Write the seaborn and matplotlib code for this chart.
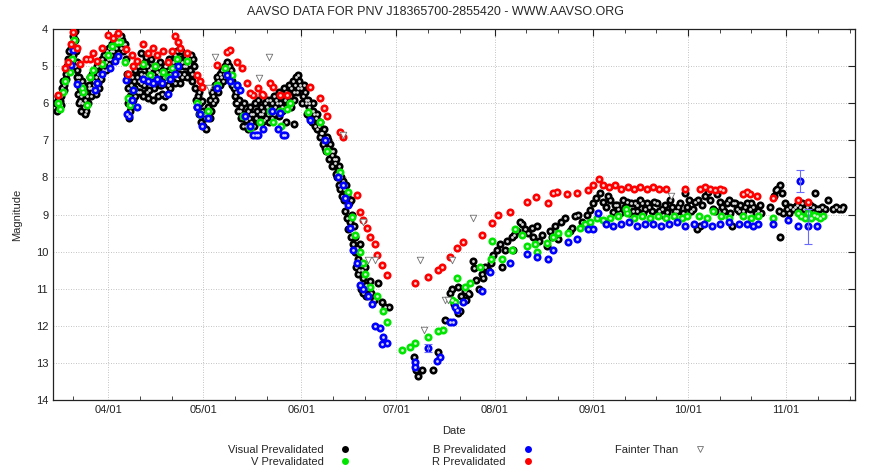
import matplotlib
matplotlib.use('Agg')
import matplotlib.pyplot as plt
import matplotlib.dates as mdates
from matplotlib.lines import Line2D
import numpy as np
import pandas as pd
import seaborn as sb

# days are counted from 2012-04-01 (negative = March)
start = pd.Timestamp('2012-04-01')

vis_day = [-16.5, -16.2, -15.8, -15.5, -15.0, -14.6, -14.2, -13.8, -13.4, -13.0,
           -12.6, -12.2, -11.8, -11.4, -11.1, -10.8, -10.5, -10.2, -10.0, -9.7,
           -9.5, -9.2, -9.0, -8.8, -8.5, -8.3, -8.0, -7.7, -7.4, -7.2,
           -7.0, -6.7, -6.5, -6.2, -6.0, -5.7, -5.3, -5.0, -4.6, -4.3,
           -4.0, -3.6, -3.2, -3.0, -2.8, -2.4, -2.0, -1.6, -1.2, -0.8,
           -0.4, 0.0, 0.4, 0.8, 1.2, 1.6, 2.0, 2.4, 2.8, 3.2,
           3.6, 4.0, 4.4, 4.8, 5.2, 5.5, 6.0, 6.2, 6.4, 6.6,
           6.8, 7.0, 7.3, 7.6, 8.0, 8.3, 8.6, 9.0, 9.3, 9.7,
           10.0, 10.4, 10.5, 10.8, 11.2, 11.6, 12.0, 12.0, 12.4, 12.5,
           12.8, 13.2, 13.6, 14.0, 14.0, 14.4, 14.8, 15.2, 15.6, 16.0,
           16.4, 16.8, 17.2, 17.4, 17.6, 18.0, 18.4, 18.8, 19.2, 19.6,
           20.0, 20.4, 20.8, 21.2, 21.8, 22.2, 22.6, 22.7, 23.0, 23.4,
           23.8, 24.2, 24.6, 25.0, 25.4, 25.8, 26.2, 26.6, 27.0, 27.4,
           27.7, 28.0, 28.3, 28.6, 29.0, 29.3, 29.7, 30.0, 30.4, 30.8,
           31.2, 31.6, 32.0, 32.4, 32.8, 33.2, 33.6, 34.0, 34.4, 34.8,
           35.2, 35.6, 36.0, 36.4, 36.8, 37.2, 37.6, 38.0, 38.4, 38.8,
           39.2, 39.6, 40.0, 40.4, 40.8, 41.2, 41.6, 42.0, 42.4, 42.8,
           43.2, 43.6, 44.0, 44.4, 44.8, 45.2, 45.8, 46.2, 46.6, 47.0,
           47.4, 47.8, 48.2, 48.6, 49.0, 49.4, 49.8, 50.2, 50.6, 51.0,
           51.4, 51.8, 52.2, 52.6, 53.0, 53.4, 53.8, 54.2, 54.6, 55.0,
           55.4, 55.8, 56.0, 56.2, 56.6, 57.0, 57.4, 57.8, 58.2, 58.5,
           58.6, 59.0, 59.4, 59.8, 60.2, 60.6, 61.0, 61.5, 62.0, 62.5,
           63.0, 63.5, 64.0, 64.5, 65.0, 65.5, 66.0, 66.5, 67.0, 67.5,
           68.0, 68.5, 69.0, 69.5, 70.0, 70.5, 71.0, 71.5, 72.0, 72.5,
           73.0, 73.5, 74.0, 74.5, 75.0, 75.5, 76.0, 76.5, 77.0, 77.5,
           78.0, 78.5, 79.0, 79.5, 80.0, 80.5, 81.0, 81.5, 82.0, 82.5,
           83.0, 84.0, 85.2, 86.5, 87.5, 88.7, 96.5, 97.2, 97.9, 99.1,
           102.6, 104.0, 106.3, 108.0, 108.6, 109.0, 110.5, 110.5, 111.1, 111.5,
           112.5, 113.0, 113.5, 114.0, 115.2, 115.6, 116.2, 117.0, 118.4, 118.0,
           119.0, 120.0, 120.8, 121.5, 122.8, 123.7, 124.4, 125.3, 127.5, 127.8,
           129.1, 130.1, 130.7, 132.6, 133.8, 136.1, 138.6, 139.5, 141.1, 142.0,
           144.2, 145.8, 148.3, 149.6, 151.2, 152.1, 153.1, 155.3, 156.2, 158.5,
           159.4, 160.7, 161.6, 163.8, 165.7, 166.4, 167.0, 168.6, 168.9, 169.5,
           170.1, 171.5, 173.3, 174.8, 176.5, 178.0, 179.4, 180.6, 182.1, 182.8,
           184.0, 185.3, 185.9, 186.2, 186.9, 188.4, 189.4, 190.8, 192.2, 193.2,
           194.5, 195.4, 197.0, 197.3, 198.5, 199.5, 200.5, 201.7, 202.6, 203.6,
           204.4, 205.2, 209.0, 211.2, 211.6, 212.1, 212.1, 212.8, 213.1, 214.3,
           215.3, 216.2, 217.3, 218.4, 219.5, 220.5, 221.5, 222.5, 223.2, 224.3,
           225.4, 226.4, 227.3, 228.8, 229.8, 230.8, 231.7, 232.0, 164.5, 175.0,
           -16.0, -15.3, -14.8, -14.0, -13.2, -12.8, -12.4, -11.6, -11.2, -10.6,
           -10.4, -9.9, -9.6, -9.3, -9.0, -8.6, -8.2, -7.8, -7.5, -6.9,
           -5.5, -5.1, -4.5, -3.8, -3.3, -2.6, -2.2, -1.4, -0.6, 0.2,
           0.6, 1.0, 1.8, 2.6, 3.4, 4.2, 4.6, 6.5, 7.1, 7.8,
           8.4, 9.5, 10.2, 11.0, 11.4, 12.2, 13.0, 13.4, 14.6, 15.4,
           16.2, 17.0, 17.8, 18.6, 19.4, 20.2, 21.0, 21.5, 22.4, 23.2,
           24.0, 24.8, 25.6, 26.4, 26.9, 28.8, 29.5, 30.2, 32.2, 33.0,
           33.8, 34.6, 35.4, 36.2, 37.0, 37.8, 39.0, 40.2, 41.0, 41.8,
           42.6, 43.4, 44.2, 45.0, 46.0, 47.2, 48.4, 49.2, 50.0, 50.8,
           51.6, 52.4, 53.2, 54.0, 54.8, 56.8, 57.6, 58.8, 59.6, 60.0,
           61.2, 61.8, 62.3, 62.8, 63.3, 63.8, 64.3, 64.8, 65.3, 65.8,
           66.3, 66.8, 67.3, 67.8, 68.3, 68.8, 69.3, 69.8, 70.3, 70.8,
           71.3, 71.8, 72.3, 72.8, 73.3, 73.8, 74.3, 74.8, 75.3, 75.8,
           76.3, 76.8, 77.3, 77.8, 78.3, 78.8, 79.3, 79.8, 80.3, 81.3,
           126.0, 128.0, 131.5, 134.0, 135.5, 137.0, 140.0, 143.0, 146.5, 147.2,
           154.0, 157.0, 157.8, 159.9, 161.0, 162.5, 163.2, 164.9, 166.8, 167.8,
           170.8, 172.3, 174.0, 175.7, 177.2, 178.8, 180.0, 181.4, 183.4, 184.7,
           187.5, 189.9, 191.5, 193.8, 195.9, 196.3, 198.0, 199.0, 201.0, 203.0,
           205.6, 206.0, 210.2, 210.8, 213.6, 214.8, 216.7, 219.0, 221.0, 223.8]
vis_mag = [6.0, 6.2, 5.9, 6.1, 5.8, 5.6, 5.4, 5.5, 5.2, 5.0,
           4.8, 4.9, 4.6, 4.4, 4.2, 4.0, 4.3, 4.6, 4.9, 5.1,
           5.4, 5.3, 5.6, 5.5, 5.8, 6.0, 5.7, 6.1, 6.3, 5.9,
           6.2, 5.8, 6.0, 5.6, 5.5, 5.3, 5.6, 5.2, 5.4, 5.1,
           5.3, 5.0, 5.2, 5.6, 4.9, 5.0, 4.8, 5.1, 4.7, 4.9,
           4.6, 4.8, 4.5, 4.7, 4.4, 4.6, 4.3, 4.5, 4.2, 4.4,
           4.3, 4.5, 4.3, 4.6, 4.4, 4.8, 5.2, 5.6, 6.0, 6.4,
           6.2, 5.8, 5.5, 5.3, 5.6, 5.4, 5.1, 5.3, 5.0, 5.4,
           5.7, 5.2, 4.65, 5.0, 5.5, 4.9, 5.3, 4.75, 5.7, 5.85,
           5.1, 5.4, 4.8, 5.2, 5.9, 5.6, 5.0, 5.4, 5.8, 5.2,
           4.9, 5.5, 5.1, 6.1, 5.3, 5.8, 5.0, 5.5, 4.8, 5.2,
           5.4, 4.9, 5.1, 4.7, 4.6, 4.8, 5.0, 5.45, 4.6, 4.9,
           5.2, 4.7, 5.0, 5.3, 4.8, 5.1, 4.7, 5.4, 5.0, 5.6,
           5.9, 6.1, 5.8, 6.3, 6.0, 6.5, 6.2, 6.6, 6.4, 6.7,
           6.3, 6.1, 5.9, 6.2, 5.7, 5.8, 5.5, 5.6, 5.3, 5.4,
           5.2, 5.3, 5.1, 5.2, 5.0, 5.1, 4.9, 5.0, 5.2, 5.1,
           5.4, 5.6, 5.8, 5.7, 6.0, 5.9, 6.2, 6.1, 6.4, 6.0,
           6.3, 6.6, 6.2, 6.4, 6.1, 6.5, 6.3, 6.0, 6.4, 6.2,
           5.9, 6.3, 6.1, 6.5, 6.2, 6.0, 6.4, 6.1, 6.3, 5.9,
           6.2, 6.0, 5.8, 6.1, 5.9, 6.2, 5.7, 6.0, 5.8, 6.2,
           5.6, 5.9, 6.5, 5.7, 6.0, 5.5, 5.8, 5.6, 5.4, 6.55,
           5.7, 5.5, 5.3, 5.6, 5.4, 5.5, 5.6, 5.8, 5.7, 6.0,
           5.9, 6.1, 6.2, 6.0, 6.3, 6.4, 6.3, 6.6, 6.5, 6.8,
           6.7, 7.0, 6.9, 7.2, 7.1, 7.4, 7.3, 7.6, 7.5, 7.8,
           7.7, 8.0, 8.1, 8.3, 8.2, 8.5, 8.7, 8.6, 9.0, 9.3,
           9.6, 9.9, 10.2, 9.8, 10.5, 10.7, 10.4, 10.9, 11.0, 10.8,
           11.1, 11.3, 10.85, 11.35, 11.5, 11.5, 12.85, 13.2, 13.35, 13.2,
           13.2, 12.7, 11.85, 11.1, 11.0, 11.4, 10.95, 11.65, 11.6, 11.2,
           11.05, 11.3, 11.1, 11.15, 10.25, 10.45, 10.75, 11.0, 10.7, 10.6,
           10.4, 10.5, 10.3, 10.1, 9.95, 9.8, 10.4, 9.95, 9.6, 9.95,
           9.45, 9.2, 9.25, 9.5, 9.35, 9.7, 9.85, 9.45, 9.3, 9.65,
           9.1, 9.45, 9.0, 9.2, 9.0, 8.88, 8.7, 8.43, 8.65, 8.6,
           8.93, 8.75, 8.97, 8.65, 8.9, 8.7, 8.75, 8.7, 8.95, 8.85,
           8.7, 8.9, 8.7, 8.85, 8.93, 8.8, 8.9, 8.7, 8.43, 8.8,
           8.9, 8.65, 9.4, 8.6, 9.3, 8.5, 8.4, 8.85, 8.45, 8.65,
           8.9, 8.7, 9.3, 8.7, 8.85, 8.75, 8.9, 8.7, 8.85, 8.8,
           8.95, 8.9, 8.8, 8.3, 8.9, 8.2, 9.6, 8.43, 8.95, 8.85,
           8.8, 8.85, 8.75, 8.8, 8.85, 8.8, 8.75, 8.8, 8.42, 8.85,
           8.8, 8.85, 8.6, 8.85, 8.8, 8.85, 8.85, 8.8, 8.95, 9.0,
           5.8, 5.95, 6.05, 5.65, 5.35, 5.1, 4.6, 4.5, 4.7, 4.05,
           5.0, 5.3, 5.75, 6.0, 5.95, 6.2, 5.4, 5.5, 5.75, 6.05,
           5.8, 5.7, 5.5, 5.75, 5.45, 5.3, 5.35, 5.0, 5.1, 4.95,
           4.8, 4.6, 4.45, 4.35, 4.25, 4.2, 4.4, 5.3, 6.1, 5.9,
           5.8, 5.7, 5.45, 5.8, 5.25, 5.0, 5.65, 5.05, 5.3, 5.15,
           5.5, 5.75, 5.0, 5.25, 5.6, 5.25, 5.45, 5.0, 5.2, 5.3,
           5.0, 4.75, 4.95, 5.2, 4.8, 5.7, 5.95, 6.3, 6.4, 6.0,
           5.9, 5.7, 5.5, 5.4, 5.3, 5.25, 5.5, 6.0, 6.2, 6.4,
           6.6, 6.45, 6.7, 6.3, 6.6, 6.45, 6.3, 6.45, 5.9, 6.5,
           6.4, 6.3, 6.0, 6.35, 6.1, 5.75, 6.1, 5.9, 5.7, 5.25,
           6.0, 5.5, 5.9, 6.3, 6.0, 6.4, 6.5, 6.2, 6.6, 6.7,
           6.5, 6.9, 6.8, 7.1, 7.2, 7.3, 7.0, 7.5, 7.3, 7.7,
           7.5, 7.9, 8.0, 8.2, 8.3, 8.5, 8.6, 8.9, 9.1, 9.4,
           9.2, 9.6, 9.8, 10.0, 10.4, 10.6, 10.5, 11.0, 11.1, 11.2,
           9.7, 9.55, 9.4, 9.6, 9.3, 9.55, 9.6, 9.2, 9.35, 9.05,
           8.55, 8.8, 8.5, 8.75, 8.85, 8.6, 8.8, 8.7, 8.9, 8.6,
           8.8, 8.65, 8.9, 8.75, 8.6, 8.9, 8.8, 8.95, 8.6, 8.85,
           8.75, 8.6, 8.9, 8.8, 8.6, 8.95, 8.7, 8.9, 8.8, 8.7,
           8.75, 8.95, 8.5, 8.35, 8.7, 8.95, 8.8, 8.7, 8.9, 8.85]

v_day = [-15.8, -15.2, -14.2, -13.6, -12.0, -11.4, -11.0, -10.7, -8.2, -7.9,
         -6.6, -5.7, -4.7, -1.9, 0.0, 1.3, 2.8, 3.8, 5.4, 6.3,
         6.9, 7.9, 11.0, 13.3, 14.8, 17.4, 18.9, 20.2, 21.8, 24.9,
         28.1, 29.0, 31.6, 34.4, 36.9, 39.1, 40.7, 42.6, 44.8, 48.0,
         51.1, 52.1, 54.3, 54.6, 56.5, 57.4, 63.1, 66.9, 69.1, 73.2,
         75.8, 77.0, 78.0, 79.5, 80.5, 81.1, 82.7, 84.9, 86.8, 88.1,
         92.8, 95.3, 96.9, 101.0, 104.2, 105.7, 108.6, 109.5, 110.2, 112.7,
         114.3, 117.4, 120.9, 121.2, 124.4, 127.5, 128.5, 130.7, 132.3, 134.8,
         135.4, 138.6, 140.5, 142.0, 145.2, 149.0, 150.5, 152.1, 154.4, 156.2,
         158.5, 160.8, 163.3, 163.8, 166.0, 168.5, 171.0, 173.5, 176.0, 178.5,
         181.0, 182.8, 186.5, 189.0, 191.0, 193.5, 196.0, 200.5, 203.0, 205.0,
         209.9, 217.8, 218.8, 219.8, 220.8, 221.8, 222.8, 223.8, 224.8, 225.7]
v_mag = [6.0, 6.15, 5.7, 5.4, 5.17, 4.8, 4.5, 4.3, 5.6, 5.7,
         6.05, 5.3, 5.1, 4.95, 4.7, 4.45, 4.35, 4.35, 4.9, 5.85,
         6.05, 5.65, 4.95, 5.25, 5.0, 5.15, 5.3, 5.05, 4.8, 4.85,
         6.0, 6.3, 6.2, 5.5, 5.05, 5.25, 5.5, 6.35, 6.67, 6.5,
         6.2, 6.5, 6.2, 6.6, 6.15, 6.0, 6.24, 6.5, 7.3, 7.85,
         8.4, 9.07, 9.55, 10.0, 10.3, 10.6, 10.95, 11.2, 11.6, 11.9,
         12.65, 12.57, 12.47, 12.3, 12.15, 12.1, 11.3, 11.35, 10.7, 10.95,
         10.85, 10.4, 10.2, 9.7, 10.2, 9.95, 9.4, 9.55, 9.85, 9.8,
         10.0, 9.77, 9.6, 9.5, 9.5, 9.35, 9.25, 9.2, 9.1, 9.15,
         9.1, 9.05, 8.85, 8.95, 9.1, 9.05, 9.1, 9.05, 9.1, 9.05,
         9.1, 9.05, 9.05, 9.1, 8.9, 9.05, 9.1, 9.05, 9.1, 9.05,
         9.1, 8.95, 9.05, 9.1, 8.95, 9.1, 9.0, 9.05, 9.1, 9.05]

b_day = [-11.7, -11.0, -9.8, -4.1, -3.5, -1.9, 0.6, 2.2, 3.2, 5.7,
         5.9, 6.6, 7.6, 7.9, 9.2, 11.0, 12.5, 14.0, 15.5, 17.0,
         18.9, 19.5, 21.1, 22.1, 28.1, 29.0, 29.7, 31.6, 34.4, 37.6,
         38.5, 40.7, 41.7, 43.2, 44.8, 45.8, 46.5, 47.3, 48.9, 51.8,
         53.7, 54.3, 55.2, 55.9, 63.8, 68.5, 72.6, 74.2, 74.8, 75.8,
         76.4, 77.3, 78.6, 79.5, 80.5, 82.1, 83.3, 84.3, 85.9, 86.8,
         86.5, 88.1, 96.9, 96.9, 101.0, 103.9, 104.8, 108.0, 108.9, 109.5,
         110.2, 112.1, 118.1, 120.6, 126.9, 132.3, 135.4, 138.9, 140.5, 145.2,
         148.0, 151.5, 153.1, 154.7, 157.0, 159.5, 162.0, 164.5, 167.0, 169.5,
         172.0, 174.5, 177.0, 179.5, 182.0, 185.0, 188.0, 190.5, 193.0, 196.0,
         199.0, 201.5, 203.5, 205.0, 209.9, 214.6, 217.8, 218.4, 221.0, 223.8]
b_mag = [4.97, 4.57, 5.47, 5.65, 5.45, 5.2, 5.05, 4.85, 4.72, 5.37,
         6.3, 6.35, 5.9, 5.65, 6.1, 5.35, 5.4, 5.45, 5.35, 5.45,
         5.75, 5.35, 5.2, 5.0, 6.1, 6.3, 6.6, 6.4, 5.6, 5.25,
         5.4, 5.5, 5.65, 6.35, 6.6, 6.85, 6.85, 6.85, 6.7, 6.2,
         6.7, 6.25, 6.85, 6.85, 6.45, 7.0, 8.0, 8.2, 8.55, 8.75,
         9.35, 9.95, 10.3, 10.9, 11.0, 11.2, 11.4, 12.0, 12.05, 12.3,
         12.5, 12.45, 12.97, 13.1, 12.6, 12.95, 12.85, 11.9, 11.9, 11.5,
         11.57, 11.35, 11.05, 10.55, 10.3, 10.05, 10.15, 10.2, 9.95, 9.75,
         9.65, 9.38, 9.4, 8.97, 9.25, 9.3, 9.25, 9.2, 9.3, 9.25,
         9.25, 9.3, 9.25, 9.2, 9.3, 9.25, 9.25, 9.3, 9.25, 9.2,
         9.25, 9.25, 9.3, 9.25, 9.25, 9.15, 9.3, 8.1, 9.3, 9.3]

r_day = [-15.8, -13.6, -12.6, -11.7, -11.0, -9.8, -8.8, -5.7, -4.7, -3.5,
         -1.9, 0.0, 1.6, 3.2, 5.7, 6.3, 7.6, 7.9, 9.2, 11.0,
         12.6, 14.2, 15.5, 17.4, 18.9, 20.2, 21.1, 22.1, 28.1, 29.0,
         29.7, 34.4, 37.6, 38.5, 40.7, 42.3, 43.9, 44.8, 45.8, 47.3,
         48.6, 48.9, 51.1, 52.1, 54.3, 56.5, 63.8, 66.9, 68.2, 69.1,
         73.2, 74.2, 78.6, 79.5, 80.5, 81.8, 82.7, 84.3, 84.9, 86.5,
         88.1, 96.9, 101.0, 104.2, 105.4, 108.0, 110.2, 112.1, 118.1, 121.2,
         123.1, 126.9, 132.3, 135.1, 138.9, 140.5, 141.7, 144.9, 148.0, 151.5,
         153.1, 155.0, 156.2, 158.0, 160.0, 162.0, 164.0, 166.0, 168.0, 170.0,
         172.0, 174.0, 176.0, 182.1, 186.9, 188.5, 190.0, 191.5, 193.0, 194.1,
         200.4, 201.5, 202.7, 204.9, 209.9, 217.8, 221.0, 22.7, 24.9, -7.0]
r_mag = [5.78, 5.05, 4.9, 4.4, 4.07, 4.5, 4.93, 4.8, 4.65, 4.85,
         4.5, 4.17, 4.25, 4.1, 4.55, 5.2, 4.7, 5.0, 4.85, 4.4,
         4.65, 4.5, 4.7, 4.6, 4.9, 4.6, 4.2, 4.35, 5.25, 5.4,
         5.55, 4.97, 4.63, 4.57, 4.9, 5.05, 5.45, 5.73, 5.78, 5.6,
         5.75, 5.78, 5.45, 5.55, 5.78, 5.78, 5.55, 5.85, 6.12, 6.35,
         6.77, 6.9, 8.47, 8.93, 9.15, 9.35, 9.6, 9.8, 10.1, 10.35,
         10.63, 10.85, 10.68, 10.5, 10.4, 10.13, 9.9, 9.73, 9.55, 9.23,
         9.0, 8.93, 8.65, 8.52, 8.7, 8.43, 8.4, 8.45, 8.43, 8.35,
         8.2, 8.05, 8.2, 8.25, 8.2, 8.3, 8.25, 8.3, 8.25, 8.3,
         8.25, 8.3, 8.3, 8.3, 8.3, 8.25, 8.3, 8.35, 8.3, 8.35,
         8.45, 8.4, 8.45, 8.5, 8.55, 8.6, 8.65, 4.5, 4.65, 4.8]

faint_day = [31.9, 33.8, 47.7, 50.8, 74.2, 80.5, 82.1, 84.3, 98.5, 99.7, 106.4, 107.3, 108.6, 115.2, 177.7]
faint_mag = [5.6, 4.75, 5.33, 4.75, 6.85, 9.2, 10.23, 10.23, 10.23, 12.1, 11.3, 11.3, 10.23, 9.1, 8.5]

# B observations that carry an error bar
err_day = [101.0, 218.4, 221.0]
err_mag = [12.6, 8.1, 9.3]
err_lo = [0.1, 0.3, 0.45]
err_hi = [0.1, 0.3, 0.5]


def toDate(days):
    return start + pd.to_timedelta(np.array(days), unit='D')


sb.set_style('white')
plt.rcParams['font.family'] = ['Liberation Sans', 'DejaVu Sans']

fig = plt.figure(figsize=(8.7, 4.68), dpi=100)
ax = fig.add_axes([0.061, 0.145, 0.922, 0.793])

series = [(vis_day, vis_mag, '#000000'),
          (v_day, v_mag, '#00e600'),
          (b_day, b_mag, '#0000ff'),
          (r_day, r_mag, '#ff0000')]

for k, (d, m, col) in enumerate(series):
    df = pd.DataFrame({'date': toDate(d), 'mag': m})
    sb.scatterplot(data=df, x='date', y='mag', color=col, s=34, linewidth=0,
                   ax=ax, zorder=3 + k, legend=False)
    sb.scatterplot(data=df, x='date', y='mag', color='white', s=4, linewidth=0,
                   alpha=0.85, ax=ax, zorder=3 + k, legend=False)

ax.errorbar(toDate(err_day), err_mag, yerr=[err_lo, err_hi], fmt='none',
            ecolor='#6a6aff', elinewidth=0.8, capsize=3, capthick=0.8, zorder=5)

faint_df = pd.DataFrame({'date': toDate(faint_day), 'mag': faint_mag})
sb.scatterplot(data=faint_df, x='date', y='mag', marker='v', s=22,
               facecolor='white', edgecolor='#707070', linewidth=0.6,
               ax=ax, zorder=8, legend=False)

ax.set_xlim(toDate([-17.4])[0], toDate([235.8])[0])
ax.set_ylim(14, 4)
ax.set_yticks(range(4, 15))
ax.xaxis.set_major_locator(mdates.MonthLocator())
ax.xaxis.set_minor_locator(mdates.DayLocator(bymonthday=[11, 21]))
ax.xaxis.set_major_formatter(mdates.DateFormatter('%m/%d'))

ax.grid(True, which='major', color='#b0b0b0', linestyle=(0, (1, 2)), linewidth=0.6)
ax.tick_params(axis='both', which='major', direction='in', length=5, width=0.8,
               top=True, right=True, labelsize=8, colors='#222222')
ax.tick_params(axis='x', which='minor', direction='in', length=3, width=0.6,
               top=True, bottom=True)
for s in ax.spines.values():
    s.set_linewidth(0.9)
    s.set_color('#222222')

ax.set_xlabel('Date', fontsize=8, labelpad=8)
ax.set_ylabel('Magnitude', fontsize=8, labelpad=10)
fig.suptitle('AAVSO DATA FOR PNV J18365700-2855420 - WWW.AAVSO.ORG', fontsize=9, y=0.988)

handles = [
    Line2D([], [], linestyle='none', marker='o', markersize=5, markerfacecolor='#000000', markeredgewidth=0),
    Line2D([], [], linestyle='none', marker='o', markersize=5, markerfacecolor='#00e600', markeredgewidth=0),
    Line2D([], [], linestyle='none', marker='o', markersize=5, markerfacecolor='#0000ff', markeredgewidth=0),
    Line2D([], [], linestyle='none', marker='o', markersize=5, markerfacecolor='#ff0000', markeredgewidth=0),
    Line2D([], [], linestyle='none', marker='v', markersize=4.5, markerfacecolor='white',
           markeredgecolor='#707070', markeredgewidth=0.6),
]
labels = ['Visual Prevalidated', 'V Prevalidated', 'B Prevalidated', 'R Prevalidated', 'Fainter Than']
fig.legend(handles, labels, loc='upper center', bbox_to_anchor=(0.538, 0.07), ncol=3,
           frameon=False, fontsize=8, markerfirst=False, handlelength=1.5,
           handletextpad=1.2, columnspacing=7.1, labelspacing=0.18)

fig.savefig('out.png', dpi=100)
